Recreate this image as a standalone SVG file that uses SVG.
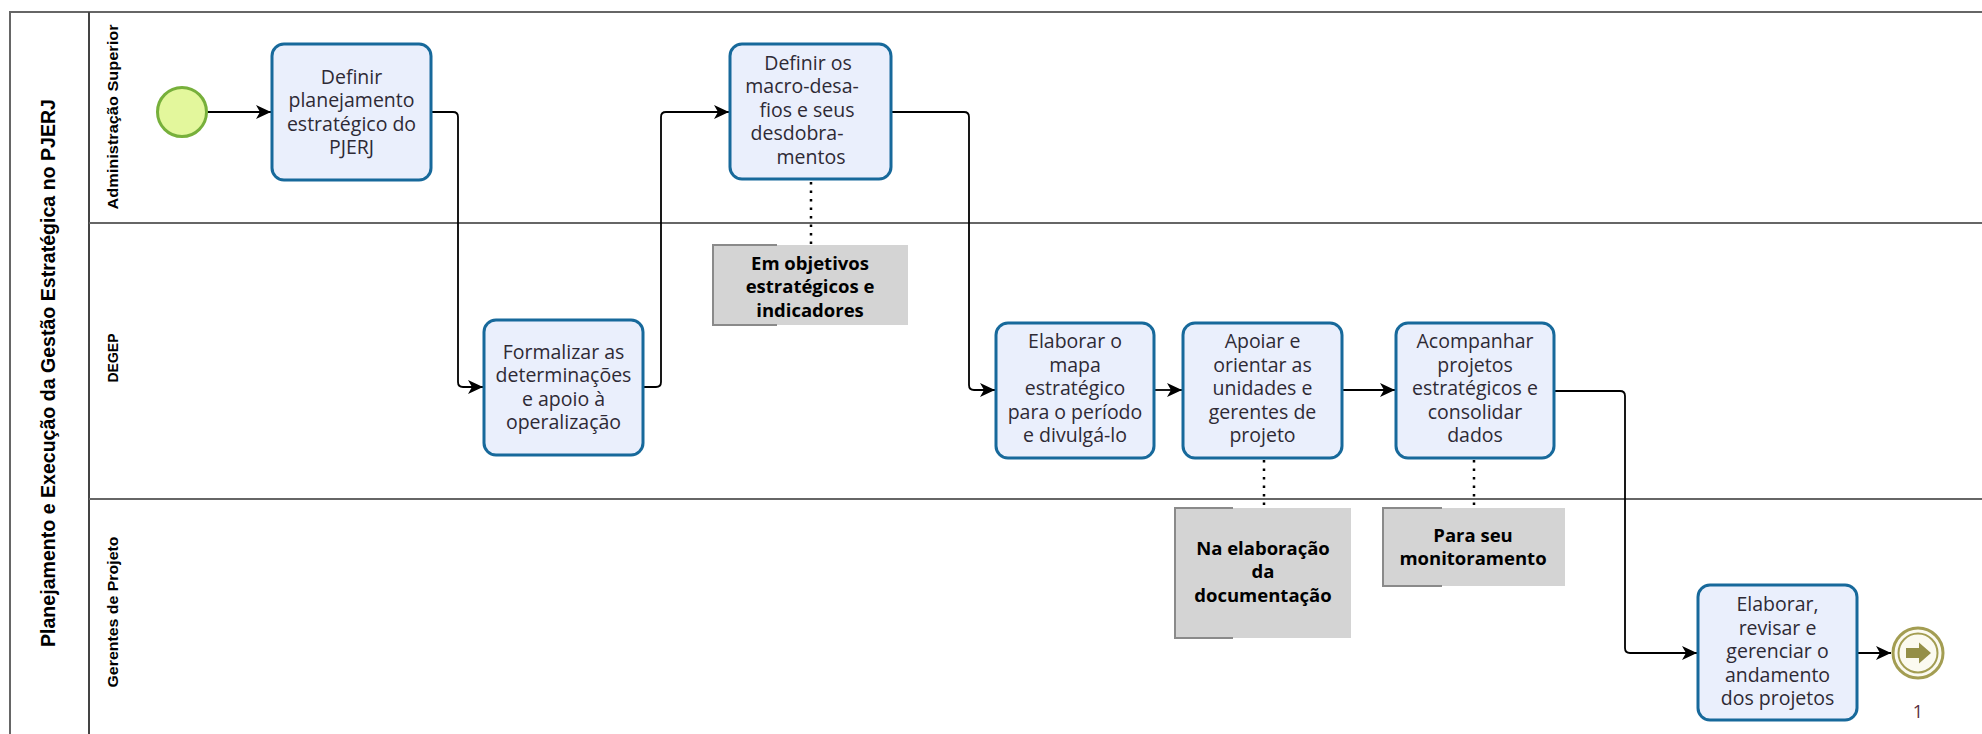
<svg xmlns="http://www.w3.org/2000/svg" width="1982" height="734" viewBox="0 0 1982 734">
<style>
.pool{fill:#fff;stroke:#666;stroke-width:2}
.band{stroke:#444;stroke-width:2;fill:none}
.lane{stroke:#666;stroke-width:2;fill:none}
.title{font-family:"Liberation Sans",Arial,sans-serif;font-weight:bold;font-size:20px;fill:#000}
.lanelbl{font-family:"Liberation Sans",Arial,sans-serif;font-weight:bold;font-size:14px;fill:#000}
.task rect{fill:#eaeffc;stroke:#17699b;stroke-width:3}
.task text{font-family:"Open Sans","Noto Sans",sans-serif;font-size:19.5px;fill:#2e2a35;text-anchor:middle}
.ann rect{fill:#d4d4d4;stroke:none}
.ann path{fill:none;stroke:#8a8a8a;stroke-width:2}
.ann text{font-family:"Open Sans","Noto Sans",sans-serif;font-size:18.5px;font-weight:bold;fill:#000;text-anchor:middle}
.flow{fill:none;stroke:#000;stroke-width:1.8;marker-end:url(#arr)}
.assoc{fill:none;stroke:#000;stroke-width:2.5;stroke-dasharray:2.5 6}
</style>
<defs>
<marker id="arr" markerUnits="userSpaceOnUse" markerWidth="17" markerHeight="17" viewBox="0 0 17 17" refX="16" refY="8.5" orient="auto">
<path d="M1,1.5 L16,8.5 L1,15.5 L5,8.5 z" fill="#000"/>
</marker>
</defs>

<g id="pool">
<rect class="pool" x="10" y="12" width="1990" height="740"/>
<line class="band" x1="89" y1="12" x2="89" y2="752"/>
<line class="lane" x1="89" y1="223" x2="2000" y2="223"/>
<line class="lane" x1="89" y1="499" x2="2000" y2="499"/>
<text class="title" transform="translate(55,373) rotate(-90)" text-anchor="middle" textLength="548" lengthAdjust="spacingAndGlyphs">Planejamento e Execução da Gestão Estratégica no PJERJ</text>
</g>

<g id="lane-admin"><text class="lanelbl" transform="translate(118,117) rotate(-90)" text-anchor="middle" textLength="185" lengthAdjust="spacingAndGlyphs">Administração Superior</text></g>
<g id="lane-degep"><text class="lanelbl" transform="translate(118,358) rotate(-90)" text-anchor="middle">DEGEP</text></g>
<g id="lane-gerentes"><text class="lanelbl" transform="translate(118,612) rotate(-90)" text-anchor="middle" textLength="151" lengthAdjust="spacingAndGlyphs">Gerentes de Projeto</text></g>

<g id="connectors">
<path class="flow" d="M207,112 H271"/>
<path class="flow" d="M431,112 H453 Q458,112 458,117 V382 Q458,387 463,387 H483"/>
<path class="flow" d="M643,387 H656 Q661,387 661,382 V117 Q661,112 666,112 H729"/>
<path class="flow" d="M891,112 H964 Q969,112 969,117 V385 Q969,390 974,390 H995"/>
<path class="flow" d="M1154,390 H1182"/>
<path class="flow" d="M1342,390 H1395"/>
<path class="flow" d="M1554,391 H1620 Q1625,391 1625,396 V648 Q1625,653 1630,653 H1697"/>
<path class="flow" d="M1857,653 H1891"/>
<path class="assoc" d="M811,182 V244"/>
<path class="assoc" d="M1264,460 V507"/>
<path class="assoc" d="M1474,460 V507"/>
</g>

<g id="start">
<circle cx="182" cy="112" r="24.5" fill="#e3f79c" stroke="#77b03b" stroke-width="3"/>
</g>

<g id="t1" class="task">
<rect x="272" y="44" width="159" height="136" rx="12"/>
<text x="351.5" y="83.5">Definir</text>
<text x="351.5" y="107">planejamento</text>
<text x="351.5" y="130.5">estratégico do</text>
<text x="351.5" y="154">PJERJ</text>
</g>

<g id="t2" class="task">
<rect x="730" y="44" width="161" height="135" rx="12"/>
<text x="808" y="69.5">Definir os</text>
<text x="802" y="93">macro-desa-</text>
<text x="807" y="116.5">fios e seus</text>
<text x="797" y="140">desdobra-</text>
<text x="811" y="163.5">mentos</text>
</g>

<g id="t3" class="task">
<rect x="484" y="320" width="159" height="135" rx="12"/>
<text x="563.5" y="358.5">Formalizar as</text>
<text x="563.5" y="382">determinações</text>
<text x="563.5" y="405.5">e apoio à</text>
<text x="563.5" y="429">operalização</text>
</g>

<g id="t4" class="task">
<rect x="996" y="323" width="158" height="135" rx="12"/>
<text x="1075" y="348">Elaborar o</text>
<text x="1075" y="371.5">mapa</text>
<text x="1075" y="395">estratégico</text>
<text x="1075" y="418.5">para o período</text>
<text x="1075" y="442">e divulgá-lo</text>
</g>

<g id="t5" class="task">
<rect x="1183" y="323" width="159" height="135" rx="12"/>
<text x="1262.5" y="348">Apoiar e</text>
<text x="1262.5" y="371.5">orientar as</text>
<text x="1262.5" y="395">unidades e</text>
<text x="1262.5" y="418.5">gerentes de</text>
<text x="1262.5" y="442">projeto</text>
</g>

<g id="t6" class="task">
<rect x="1396" y="323" width="158" height="135" rx="12"/>
<text x="1475" y="348">Acompanhar</text>
<text x="1475" y="371.5">projetos</text>
<text x="1475" y="395">estratégicos e</text>
<text x="1475" y="418.5">consolidar</text>
<text x="1475" y="442">dados</text>
</g>

<g id="t7" class="task">
<rect x="1698" y="585" width="159" height="135" rx="12"/>
<text x="1777.5" y="611">Elaborar,</text>
<text x="1777.5" y="634.5">revisar e</text>
<text x="1777.5" y="658">gerenciar o</text>
<text x="1777.5" y="681.5">andamento</text>
<text x="1777.5" y="705">dos projetos</text>
</g>

<g id="end">
<circle cx="1918" cy="653" r="25" fill="#fbfaf0" stroke="#a39d52" stroke-width="3"/>
<circle cx="1918" cy="653" r="19.5" fill="none" stroke="#a39d52" stroke-width="2"/>
<path d="M1906,648 H1919 V642.5 L1931,653 L1919,663.5 V658 H1906 Z" fill="#948f48"/>
<text x="1918" y="718" font-family="'Open Sans','Noto Sans',sans-serif" font-size="18" fill="#5a2e3c" text-anchor="middle">1</text>
</g>

<g id="a1" class="ann">
<rect x="712" y="245" width="196" height="80"/>
<path d="M777,245 H713 V325 H777"/>
<text x="810" y="269.5">Em objetivos</text>
<text x="810" y="293">estratégicos e</text>
<text x="810" y="316.5">indicadores</text>
</g>

<g id="a2" class="ann">
<rect x="1174" y="508" width="177" height="130"/>
<path d="M1233,508 H1175 V638 H1233"/>
<text x="1263" y="554.5">Na elaboração</text>
<text x="1263" y="578">da</text>
<text x="1263" y="601.5">documentação</text>
</g>

<g id="a3" class="ann">
<rect x="1382" y="508" width="183" height="78"/>
<path d="M1442,508 H1383 V586 H1442"/>
<text x="1473" y="541.5">Para seu</text>
<text x="1473" y="565">monitoramento</text>
</g>
</svg>
